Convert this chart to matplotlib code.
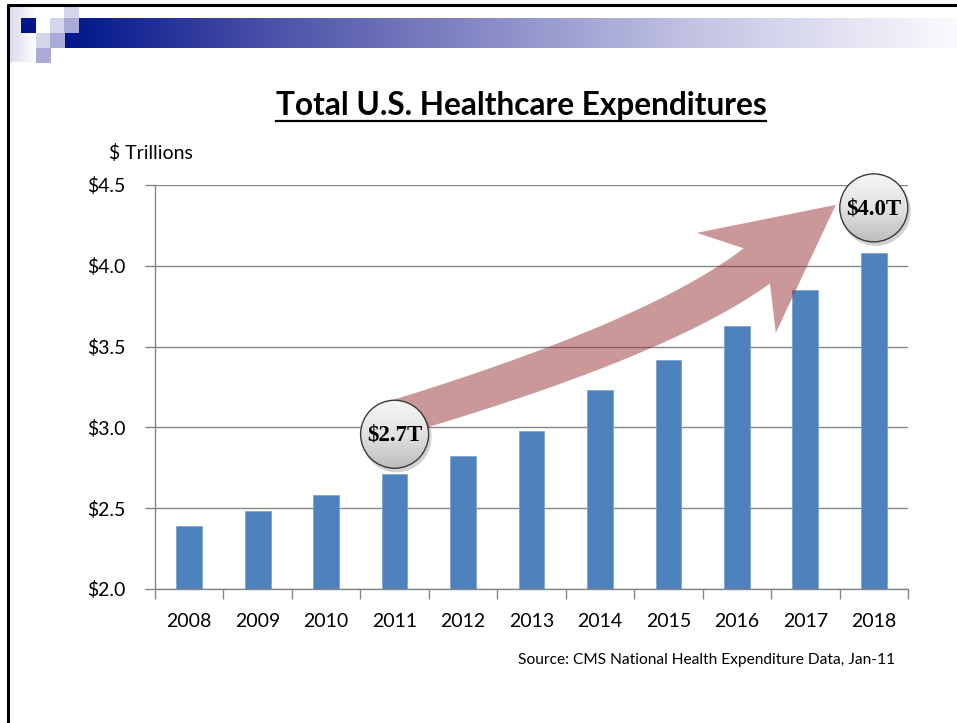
import numpy as np
import matplotlib
matplotlib.use("Agg")
import matplotlib.pyplot as plt
from matplotlib.patches import Circle, Polygon, Rectangle
from matplotlib.colors import LinearSegmentedColormap

# ---------------- data ----------------
years = ["2008", "2009", "2010", "2011", "2012", "2013", "2014", "2015", "2016", "2017", "2018"]
spending = [2.39, 2.48, 2.58, 2.71, 2.82, 2.98, 3.23, 3.42, 3.63, 3.85, 4.08]
y_ticks = [2.0, 2.5, 3.0, 3.5, 4.0, 4.5]
callout_years = ["2011", "2018"]
callout_labels = ["$2.7T", "$4.0T"]

title = "Total U.S. Healthcare Expenditures"
unit_label = "$ Trillions"
source = "Source: CMS National Health Expenditure Data, Jan-11"

W, H = 957, 723
fig = plt.figure(figsize=(W / 100, H / 100), dpi=100)
fig.patch.set_facecolor("white")

# background axes in pixel coords
bg = fig.add_axes([0, 0, 1, 1], zorder=0)
bg.set_xlim(0, W)
bg.set_ylim(H, 0)
bg.axis("off")

# header gradient bar
def grad_color(t):
    stops = [(0.0, (0, 22, 140)), (0.21, (70, 76, 166)), (0.71, (196, 196, 228)), (1.0, (250, 250, 253))]
    for (t0, c0), (t1, c1) in zip(stops[:-1], stops[1:]):
        if t <= t1:
            f = (t - t0) / (t1 - t0)
            return [(a + (b - a) * f) / 255 for a, b in zip(c0, c1)]
    return [c / 255 for c in stops[-1][1]]

xs = np.linspace(0, 1, 400)
grad = np.array([grad_color(t) for t in xs])[None, :, :]
bg.imshow(grad, extent=[65, W, 48, 18], aspect="auto", interpolation="bilinear", zorder=1)

# left pale strip
strip = np.array([[[(216 + (255 - 216) * t) / 255, (216 + (255 - 216) * t) / 255, (234 + (255 - 234) * t) / 255] for t in np.linspace(0, 1, 50)]])
bg.imshow(strip, extent=[8, 36, 62, 5], aspect="auto", interpolation="bilinear", zorder=1)

light = "#d6d6ea"
mid = "#aaaad6"
dark = "#00168a"
squares = [
    (64, 5, light), (21, 18, dark), (50, 18, light), (64, 18, mid),
    (36, 33, light), (50, 33, mid), (36, 48, mid),
]
for x0, y0, c in squares:
    bg.add_patch(Rectangle((x0, y0), 15, 14.5, facecolor=c, edgecolor="none", zorder=2))

# frame lines
bg.plot([7, W], [5, 5], color="black", lw=2.2, zorder=3, solid_capstyle="butt")
bg.plot([7.8, 7.8], [4, H], color="black", lw=2.2, zorder=3, solid_capstyle="butt")

# title with underline
t = bg.text(521, 106, title, ha="center", va="center", fontsize=22.8, fontweight="bold",
            family="Lato", color="black", zorder=3)
fig.canvas.draw()
bb = t.get_window_extent()
bg.plot([bb.x0, bb.x1], [121, 121], color="black", lw=1.6, zorder=3)

# ---------------- chart ----------------
ax = fig.add_axes([155 / W, 1 - 589 / H, 753 / W, 404 / H], zorder=1)
ax.set_facecolor("none")
x = np.arange(len(years))
ax.bar(x, spending, width=0.375, color="#4f81bd", edgecolor="#7fa3d0", linewidth=0.6, zorder=2)
ax.set_xlim(-0.5, len(years) - 0.5)
ax.set_ylim(y_ticks[0], y_ticks[-1])
ax.set_yticks(y_ticks)
ax.set_yticklabels([f"${v:.1f}" for v in y_ticks])
ax.set_xticks(x)
ax.set_xticklabels(years)
ax.set_xticks(np.arange(len(years) + 1) - 0.5, minor=True)
ax.tick_params(axis="x", which="major", length=0, pad=17, labelsize=14)
ax.tick_params(axis="x", which="minor", length=7, color="#868686", width=1)
ax.tick_params(axis="y", length=7, color="#868686", width=1, pad=14, labelsize=14)
for lab in ax.get_xticklabels() + ax.get_yticklabels():
    lab.set_family("Lato")
ax.grid(axis="y", color="#868686", lw=1, zorder=1)
ax.set_axisbelow(True)
for s in ["top", "right"]:
    ax.spines[s].set_visible(False)
for s in ["left", "bottom"]:
    ax.spines[s].set_color("#868686")
    ax.spines[s].set_linewidth(1)

bg.text(109, 153, unit_label, ha="left", va="center", fontsize=14, family="Lato", color="black")
bg.text(895, 660, source, ha="right", va="center", fontsize=11.2, family="Lato", color="black")

# ---------------- overlay: arrow + callouts ----------------
ov = fig.add_axes([0, 0, 1, 1], zorder=5)
ov.set_xlim(0, W)
ov.set_ylim(H, 0)
ov.axis("off")
ov.patch.set_alpha(0)

def to_pix(xd, yd):
    dx, dy = ax.transData.transform((xd, yd))
    return np.array([dx, H - dy])

centers = []
for yr, off in zip(callout_years, [40, 45]):
    i = years.index(yr)
    p = to_pix(i, spending[i])
    centers.append(p + np.array([0, -off]))

c1, c2 = centers
S = c1 + np.array([0, -16])
tip = c2 + np.array([-38, -3])
E = tip + np.array([-79, 61])
# control point derived from tangents
d0 = np.array([1.0, -0.30])
d1 = np.array([1.0, -0.75])
A = np.column_stack([d0, -d1])
sol = np.linalg.solve(A, E - S)
C = S + sol[0] * d0

ts = np.linspace(0, 1, 60)
pts = ((1 - ts) ** 2)[:, None] * S + (2 * ts * (1 - ts))[:, None] * C + (ts ** 2)[:, None] * E
der = (2 * (1 - ts))[:, None] * (C - S) + (2 * ts)[:, None] * (E - C)
der /= np.linalg.norm(der, axis=1)[:, None]
perp = np.column_stack([-der[:, 1], der[:, 0]])
if perp[0, 1] < 0:
    perp = -perp
wid = 36 + (44 - 36) * ts
top = pts - perp * (wid / 2)[:, None]
bot = pts + perp * (wid / 2)[:, None]
barb1 = tip + np.array([-139, 28])
barb2 = tip + np.array([-60, 128])
poly = np.vstack([top, [barb1], [tip], [barb2], bot[::-1]])
ov.add_patch(Polygon(poly, closed=True, facecolor=(0.59, 0.20, 0.20), alpha=0.5,
                     edgecolor="none", zorder=2))

# callout bubbles
R = 34
bub_cmap = LinearSegmentedColormap.from_list("b", ["#f6f6f6", "#e2e2e2", "#bdbdbd"])
for (cx, cy), lab in zip(centers, callout_labels):
    ov.add_patch(Circle((cx + 2, cy + 3), R + 1, facecolor="black", alpha=0.18, edgecolor="none", zorder=3))
    g = np.linspace(0, 1, 100)[:, None]
    im = ov.imshow(g, cmap=bub_cmap, extent=[cx - R, cx + R, cy + R, cy - R], aspect="auto",
                   interpolation="bilinear", zorder=4)
    clip = Circle((cx, cy), R, transform=ov.transData)
    im.set_clip_path(clip)
    ov.add_patch(Circle((cx, cy), R, facecolor="none", edgecolor="#3a3a3a", lw=1.0, zorder=5))
    ov.text(cx, cy + 1, lab, ha="center", va="center", fontsize=16.5, fontweight="bold",
            family="Liberation Serif", color="black", zorder=6)

ov.set_xlim(0, W)
ov.set_ylim(H, 0)

fig.savefig("out.png", dpi=100, facecolor="white")
